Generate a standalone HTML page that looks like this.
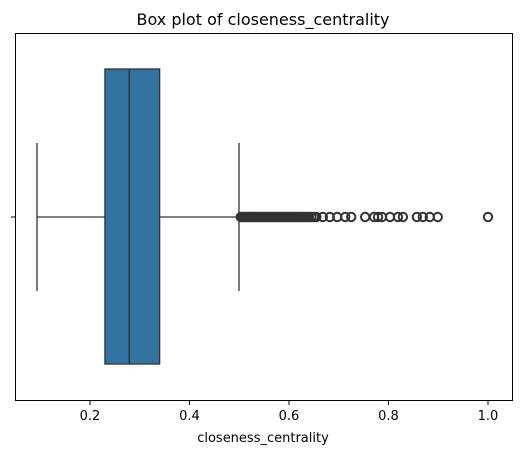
<!DOCTYPE html>
<html><head><meta charset="utf-8"><style>
body{margin:0;background:#fff;}
svg text{font-family:"DejaVu Sans","Liberation Sans",sans-serif;fill:#000;}
</style></head><body>
<svg id="chart" width="520" height="455" xmlns="http://www.w3.org/2000/svg">
<text x="263" y="25" text-anchor="middle" font-size="16">Box plot of closeness_centrality</text>
<g id="plot"></g>
<rect x="15.5" y="33.5" width="497" height="367" fill="none" stroke="#000" stroke-width="1"/>
<text x="263" y="442" text-anchor="middle" font-size="13">closeness_centrality</text>
</svg>
<script>
const tickValues=[0.2,0.4,0.6,0.8,1.0];
const tickLabels=["0.2","0.4","0.6","0.8","1.0"];
const whiskerLow=[0.0935];
const q1=[0.230];
const median=[0.279];
const q3=[0.340];
const whiskerHigh=[0.4995];
const outliers=[0.503,0.506,0.509,0.512,0.515,0.518,0.521,0.524,0.527,0.53,0.533,0.536,0.539,0.542,0.545,0.548,0.551,0.554,0.557,0.56,0.563,0.566,0.569,0.572,0.575,0.578,0.581,0.584,0.587,0.59,0.593,0.596,0.599,0.602,0.605,0.608,0.611,0.614,0.617,0.62,0.623,0.626,0.629,0.632,0.636,0.64,0.645,0.65,0.655,0.668,0.682,0.697,0.713,0.725,0.753,0.771,0.779,0.787,0.803,0.819,0.829,0.857,0.869,0.883,0.899,1.0];
const NS="http://www.w3.org/2000/svg";
const x=v=>-9.5+497.5*v;
const yc=217, yTop=69, yBot=364;
const g=document.getElementById('plot');
function mk(t,a){const e=document.createElementNS(NS,t);for(const k in a)e.setAttribute(k,a[k]);g.appendChild(e);return e;}
tickValues.forEach((v,i)=>{
 const t=mk('line',{x1:x(v),x2:x(v),y1:400.5,y2:405,stroke:'#000'});
 
 
 const l=mk('text',{x:x(v),y:420,'text-anchor':'middle','font-size':13});
 l.textContent=tickLabels[i];
 
 
});
const yt=mk('line',{x1:11,x2:15.5,y1:yc,y2:yc,stroke:'#000'});


const s='#333';
const w1=mk('line',{x1:x(whiskerLow[0]),x2:x(q1[0]),y1:yc,y2:yc,stroke:s,'stroke-width':1.3});


const w2=mk('line',{x1:x(q3[0]),x2:x(whiskerHigh[0]),y1:yc,y2:yc,stroke:s,'stroke-width':1.3});


const c1=mk('line',{x1:x(whiskerLow[0]),x2:x(whiskerLow[0]),y1:143,y2:291,stroke:s,'stroke-width':1.3});


const c2=mk('line',{x1:x(whiskerHigh[0]),x2:x(whiskerHigh[0]),y1:143,y2:291,stroke:s,'stroke-width':1.3});


const box=mk('rect',{x:x(q1[0]),y:yTop,width:x(q3[0])-x(q1[0]),height:yBot-yTop,fill:'#3274a1',stroke:s,'stroke-width':1.3});


const md=mk('line',{x1:x(median[0]),x2:x(median[0]),y1:yTop,y2:yBot,stroke:s,'stroke-width':1.5});


outliers.forEach(v=>{
 const c=mk('circle',{cx:x(v),cy:yc,r:4.2,fill:'none',stroke:s,'stroke-width':2});
 
 
});
</script>
</body></html>
